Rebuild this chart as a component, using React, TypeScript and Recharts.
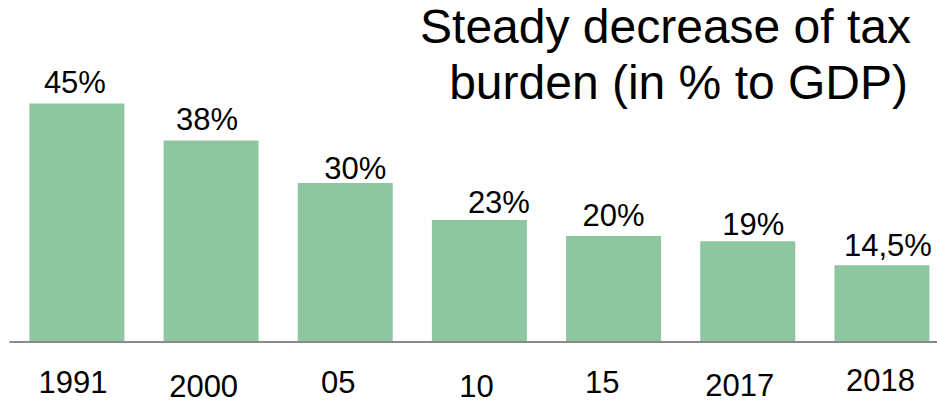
import React from "react";
import { BarChart, Bar, XAxis, YAxis, LabelList } from "recharts";

const YEARS = ["1991", "2000", "05", "10", "15", "2017", "2018"];
const VALUES = [45, 38, 30, 23, 20, 19, 14.5];
const VALUE_LABELS = ["45%", "38%", "30%", "23%", "20%", "19%", "14,5%"];
const TITLE_LINES = ["Steady decrease of tax", "burden (in % to GDP)"];

// per-item label nudges (styling only)
const LABEL_DX = [-2, -4, 10, 19.5, 0, 5.5, 6];
const LABEL_GAP = [10, 11, 4, 6.6, 9.7, 6, 9];
const TICK_DX = [-3.5, -7, -6.5, -2.5, -11, -7.5, -1];
const TICK_DY = [51, 55.5, 51, 55.5, 51, 54.5, 49];

const data = YEARS.map((y, i) => ({ year: y, value: VALUES[i], label: VALUE_LABELS[i] }));

const FONT = "'Liberation Sans', Arial, sans-serif";

const Tick = (props: any) => {
  const { x, y, payload } = props;
  const i = YEARS.indexOf(payload.value);
  return (
    <text
      x={x + (TICK_DX[i] ?? 0)}
      y={y + (TICK_DY[i] ?? 50) - 8}
      textAnchor="middle"
      fontFamily={FONT}
      fontSize={31}
      fill="#000"
    >
      {payload.value}
    </text>
  );
};

const ValueLabel = (props: any) => {
  const { x, y, width, value } = props;
  const i = VALUE_LABELS.indexOf(value);
  return (
    <text
      x={x + width / 2 + (LABEL_DX[i] ?? 0)}
      y={y - (LABEL_GAP[i] ?? 8)}
      textAnchor="middle"
      fontFamily={FONT}
      fontSize={31}
      fill="#000"
    >
      {value}
    </text>
  );
};

export default function App() {
  return (
    <div
      style={{
        position: "absolute",
        left: 0,
        top: 0,
        width: 937,
        height: 400,
        overflow: "hidden",
        background: "#fff",
      }}
    >
      <BarChart
        width={948.6}
        height={400}
        data={data}
        margin={{ top: 77, right: 0, bottom: 0, left: 9.4 }}
      >
        <YAxis hide domain={[0, 50]} />
        <XAxis
          dataKey="year"
          height={58}
          axisLine={{ stroke: "#898989", strokeWidth: 2 }}
          tickLine={false}
          tick={<Tick />}
          interval={0}
        />
        <Bar dataKey="value" fill="#8EC6A0" barSize={95} isAnimationActive={false}>
          <LabelList dataKey="label" content={<ValueLabel />} />
        </Bar>
      </BarChart>
      <svg
        width={937}
        height={400}
        style={{ position: "absolute", left: 0, top: 0, pointerEvents: "none" }}
      >
        <text x={911} y={43} textAnchor="end" fontFamily={FONT} fontSize={48} fill="#000">
          {TITLE_LINES[0]}
        </text>
        <text x={908} y={99} textAnchor="end" fontFamily={FONT} fontSize={48} fill="#000">
          {TITLE_LINES[1]}
        </text>
      </svg>
    </div>
  );
}
